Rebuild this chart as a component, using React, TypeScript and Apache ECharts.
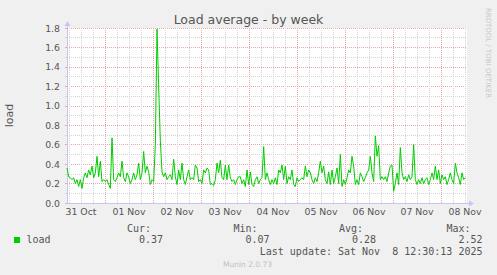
import React, { useEffect, useRef } from "react";
import * as echarts from "echarts";

// ---- data ----
const TITLE = "Load average - by week";
const Y_NAME = "load";
const DAY_LABELS = ["31 Oct", "01 Nov", "02 Nov", "03 Nov", "04 Nov", "05 Nov", "06 Nov", "07 Nov", "08 Nov"];
const Y_MIN = 0;
const Y_MAX = 1.8;
const Y_STEP = 0.2;
// axis window in hours since 31 Oct 00:00
const AXIS_START_HOUR = 5;
const AXIS_END_HOUR = 205;
// series samples: start hour and spacing (hours)
const SAMPLE_START_HOUR = 5;
const SAMPLE_STEP_HOURS = 50 / 60;
const LOAD = [
  0.36, 0.27, 0.26, 0.24, 0.26, 0.2, 0.24, 0.17, 0.24, 0.15,
  0.26, 0.31, 0.26, 0.34, 0.29, 0.38, 0.26, 0.31, 0.48, 0.27,
  0.43, 0.22, 0.24, 0.22, 0.24, 0.19, 0.15, 0.67, 0.24, 0.22,
  0.26, 0.31, 0.27, 0.43, 0.26, 0.22, 0.31, 0.27, 0.2, 0.24,
  0.31, 0.24, 0.29, 0.41, 0.24, 0.31, 0.53, 0.31, 0.38, 0.32,
  0.19, 0.24, 0.22, 0.6, 1.79, 1.2,
  0.64, 0.32, 0.27, 0.31, 0.24, 0.27, 0.29, 0.24, 0.45, 0.27,
  0.19, 0.34, 0.24, 0.41, 0.24, 0.19, 0.27, 0.34, 0.24, 0.26,
  0.24, 0.39, 0.36, 0.22, 0.24, 0.2, 0.34, 0.31, 0.36, 0.34,
  0.19, 0.2, 0.18, 0.24, 0.41, 0.31, 0.44, 0.26, 0.24, 0.39,
  0.24, 0.39, 0.26, 0.22, 0.24, 0.19, 0.24, 0.27, 0.27, 0.2,
  0.24, 0.17, 0.34, 0.19, 0.32, 0.19, 0.17, 0.24, 0.27, 0.2,
  0.24, 0.26, 0.58, 0.24, 0.31, 0.24, 0.19, 0.24, 0.2, 0.26,
  0.19, 0.34, 0.31, 0.39, 0.24, 0.38, 0.2, 0.27, 0.24, 0.34,
  0.19, 0.17, 0.26, 0.22, 0.24, 0.26, 0.24, 0.38, 0.27, 0.34,
  0.31, 0.24, 0.2, 0.26, 0.22, 0.31, 0.43, 0.31, 0.38, 0.24,
  0.2, 0.32, 0.19, 0.34, 0.2, 0.27, 0.36, 0.2, 0.5, 0.17,
  0.24, 0.19, 0.26, 0.34, 0.31, 0.48, 0.38, 0.19, 0.24, 0.19,
  0.31, 0.27, 0.22, 0.26, 0.31, 0.34, 0.48, 0.31, 0.22, 0.69,
  0.48, 0.59, 0.24, 0.27, 0.24, 0.27, 0.22, 0.31, 0.38, 0.39,
  0.12, 0.2, 0.31, 0.19, 0.57, 0.31, 0.24, 0.27, 0.22, 0.29,
  0.24, 0.27, 0.6, 0.24, 0.19, 0.24, 0.2, 0.26, 0.2, 0.24,
  0.26, 0.19, 0.24, 0.31, 0.24, 0.38, 0.24, 0.34, 0.2, 0.29,
  0.24, 0.27, 0.19, 0.24, 0.31, 0.24, 0.2, 0.41, 0.31, 0.26,
  0.19, 0.31, 0.24, 0.26,
];
const LEGEND_NAME = "load";
const STAT_HEADERS = ["Cur:", "Min:", "Avg:", "Max:"];
const STAT_VALUES = ["0.37", "0.07", "0.28", "2.52"];
const LAST_UPDATE = "Last update: Sat Nov  8 12:30:13 2025";
const WATERMARK = "RRDTOOL / TOBI OETIKER";
const FOOTER = "Munin 2.0.73";

// ---- styles ----
const BG = "#f0f0f0";
const TEXT = "#555555";
const LINE_GREEN = "#00cc00";
const MAJOR_GRID = "#e6a8a8";
const MINOR_GRID = "#d4d4d4";
const AXIS_COLOR = "#c6c6f2";
const SANS = "DejaVu Sans";
const MONO = "DejaVu Sans Mono";

const G_LEFT = 67;
const G_TOP = 28;
const G_W = 400;
const G_H = 175;

export default function App() {
  const ref = useRef<HTMLDivElement>(null);

  useEffect(() => {
    if (!ref.current) return;
    const chart = echarts.init(ref.current, undefined, { renderer: "svg" });

    const slotCount = (AXIS_END_HOUR - AXIS_START_HOUR) * 2 + 1;
    const slots = Array.from({ length: slotCount }, (_, i) => String(i));
    const hourOf = (i: number) => AXIS_START_HOUR + i / 2;
    const isNoon = (i: number) => hourOf(i) % 24 === 12;
    const isMidnight = (i: number) => hourOf(i) % 24 === 0;
    const isSixHour = (i: number) => hourOf(i) % 6 === 0 && !isMidnight(i);

    const seriesData = LOAD.map((v, i) => [SAMPLE_START_HOUR + i * SAMPLE_STEP_HOURS, v]);

    const statRight = [151, 257.5, 363, 470.5];
    const valueRight = [163, 269.5, 376, 482.5];

    const graphics: any[] = [
      {
        type: "text",
        x: 248.5,
        y: 19.5,
        style: { text: TITLE, fill: TEXT, font: `12.5px "${SANS}"`, align: "center", verticalAlign: "middle" },
      },
      {
        type: "text",
        x: 9,
        y: 115.5,
        rotation: Math.PI / 2,
        style: { text: Y_NAME, fill: TEXT, font: `11px "${SANS}"`, align: "center", verticalAlign: "middle" },
      },
      {
        type: "text",
        x: 488,
        y: 53,
        rotation: -Math.PI / 2,
        style: { text: WATERMARK, fill: "#c8c8c8", font: `7px "${SANS}"`, align: "center", verticalAlign: "middle" },
      },
      // axis extensions & arrows
      { type: "line", shape: { x1: 67.5, y1: 28, x2: 67.5, y2: 24 }, style: { stroke: AXIS_COLOR, lineWidth: 1 } },
      { type: "polygon", shape: { points: [[64.5, 26], [70.5, 26], [67.5, 21]] }, style: { fill: AXIS_COLOR } },
      { type: "line", shape: { x1: 467, y1: 203.5, x2: 470, y2: 203.5 }, style: { stroke: AXIS_COLOR, lineWidth: 1 } },
      { type: "polygon", shape: { points: [[469, 200.5], [469, 206.5], [474, 203.5]] }, style: { fill: AXIS_COLOR } },
      // legend
      { type: "rect", shape: { x: 14, y: 237, width: 6, height: 6 }, style: { fill: LINE_GREEN } },
      {
        type: "text",
        x: 26.5,
        y: 239.5,
        style: { text: LEGEND_NAME, fill: TEXT, font: `10px "${MONO}"`, align: "left", verticalAlign: "middle" },
      },
      ...STAT_HEADERS.map((h, i) => ({
        type: "text",
        x: statRight[i],
        y: 228.5,
        style: { text: h, fill: TEXT, font: `10px "${MONO}"`, align: "right", verticalAlign: "middle" },
      })),
      ...STAT_VALUES.map((v, i) => ({
        type: "text",
        x: valueRight[i],
        y: 239.5,
        style: { text: v, fill: TEXT, font: `10px "${MONO}"`, align: "right", verticalAlign: "middle" },
      })),
      {
        type: "text",
        x: 482.5,
        y: 251,
        style: { text: LAST_UPDATE, fill: TEXT, font: `10px "${MONO}"`, align: "right", verticalAlign: "middle" },
      },
      {
        type: "text",
        x: 247.5,
        y: 264.5,
        style: { text: FOOTER, fill: "#c0c0c0", font: `7.5px "${SANS}"`, align: "center", verticalAlign: "middle" },
      },
    ];

    chart.setOption({
      animation: false,
      backgroundColor: BG,
      grid: {
        left: G_LEFT,
        top: G_TOP,
        width: G_W,
        height: G_H,
        show: true,
        backgroundColor: "#ffffff",
        borderWidth: 0,
        containLabel: false,
      },
      xAxis: [
        {
          type: "category",
          data: slots,
          boundaryGap: false,
          position: "bottom",
          axisLine: { show: true, lineStyle: { color: AXIS_COLOR, width: 1 } },
          axisTick: { show: false },
          axisLabel: {
            interval: (i: number) => isNoon(i),
            formatter: (_v: string, i: number) => DAY_LABELS[Math.round((hourOf(i) - 12) / 24)] ?? "",
            color: TEXT,
            fontFamily: SANS,
            fontSize: 9.33,
            margin: 4,
          },
          splitLine: {
            show: true,
            interval: (i: number) => isMidnight(i),
            lineStyle: { color: MAJOR_GRID, type: "dotted", width: 1 },
          },
          z: 1,
        },
        {
          type: "category",
          data: slots,
          boundaryGap: false,
          position: "bottom",
          axisLine: { show: false },
          axisTick: { show: false },
          axisLabel: { show: false },
          splitLine: {
            show: true,
            interval: (i: number) => isSixHour(i),
            lineStyle: { color: MINOR_GRID, type: "dotted", width: 1 },
          },
          z: 0,
        },
        {
          type: "value",
          min: AXIS_START_HOUR,
          max: AXIS_END_HOUR,
          show: false,
        },
      ],
      yAxis: {
        type: "value",
        min: Y_MIN,
        max: Y_MAX,
        interval: Y_STEP,
        axisLine: { show: true, lineStyle: { color: AXIS_COLOR, width: 1 } },
        axisTick: { show: true, length: 2, lineStyle: { color: MAJOR_GRID } },
        minorTick: { show: true, splitNumber: 2, length: 2, lineStyle: { color: MINOR_GRID } },
        axisLabel: {
          formatter: (v: number) => v.toFixed(1),
          color: TEXT,
          fontFamily: SANS,
          fontSize: 9.33,
          margin: 7,
        },
        splitLine: { show: true, lineStyle: { color: MAJOR_GRID, type: "dotted", width: 1 } },
        minorSplitLine: { show: true, lineStyle: { color: MINOR_GRID, type: "dotted", width: 1 } },
      },
      series: [
        {
          type: "line",
          name: LEGEND_NAME,
          xAxisIndex: 2,
          data: seriesData,
          showSymbol: false,
          lineStyle: { color: LINE_GREEN, width: 1 },
          itemStyle: { color: LINE_GREEN },
          z: 5,
        },
      ],
      graphic: graphics,
    });

    return () => chart.dispose();
  }, []);

  return (
    <div
      ref={ref}
      style={{ position: "fixed", left: 0, top: 0, width: 497, height: 275 }}
    />
  );
}
